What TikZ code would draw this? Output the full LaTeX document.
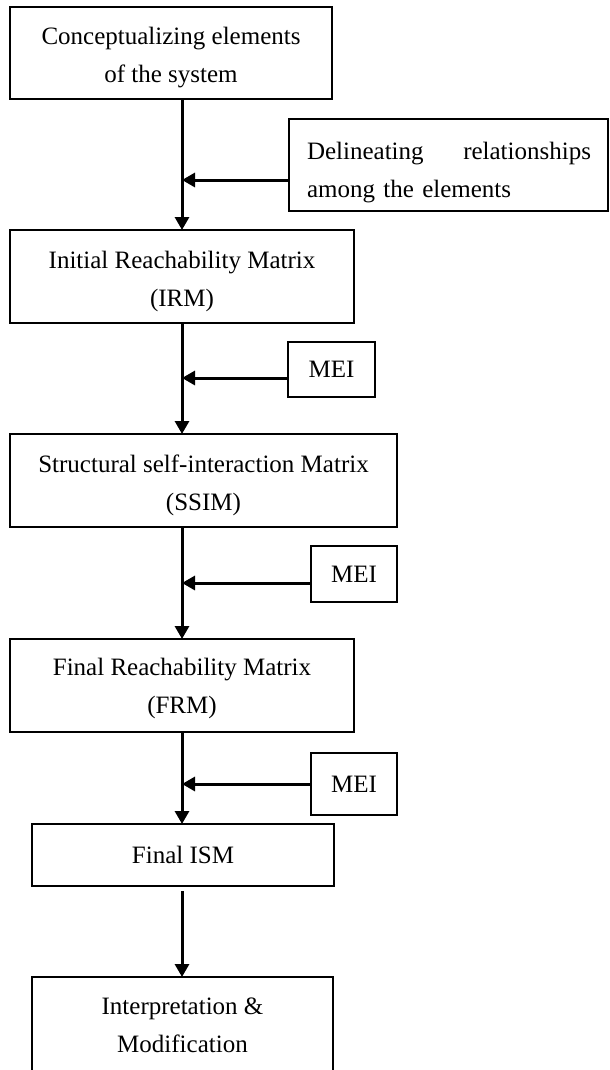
\documentclass[tikz,border=0pt]{standalone}
\usepackage{fontspec}
\setmainfont{Liberation Serif}
\usetikzlibrary{arrows.meta}
\begin{document}
\begin{tikzpicture}[x=1bp,y=-1bp,
  box/.style={draw, line width=1.2bp, inner sep=0pt, outer sep=0pt},
  txt/.style={inner sep=0pt, align=center, font=\fontsize{25bp}{38bp}\selectfont},
  flow/.style={line width=3bp, -{Triangle[length=13bp,width=14bp]}}]
\clip (0,0) rectangle (610,1070);
% boxes
\node[box, minimum width=322bp, minimum height=92bp] (b1) at (171,53) {};
\node[box, minimum width=319bp, minimum height=92bp] (d) at (448.5,165) {};
\node[box, minimum width=344bp, minimum height=93bp] (b2) at (182,276.5) {};
\node[box, minimum width=87bp, minimum height=55bp] (m1) at (331.5,369.5) {};
\node[box, minimum width=387bp, minimum height=93bp] (b3) at (203.5,480.5) {};
\node[box, minimum width=86bp, minimum height=56bp] (m2) at (354,574) {};
\node[box, minimum width=344bp, minimum height=93bp] (b4) at (182,685.5) {};
\node[box, minimum width=86bp, minimum height=62bp] (m3) at (354,784) {};
\node[box, minimum width=302bp, minimum height=62bp] (b5) at (183,855) {};
\node[box, minimum width=301bp, minimum height=113bp] (b6) at (182.5,1033.5) {};
% texts
\node[txt] (t1) at ([yshift=-4.5bp]b1.center) {Conceptualizing elements\\of the system};
\node[txt, text width=284bp, align=left] (td) at (449,173) {\noindent\hbox to 284bp{Delineating\hfill relationships}\\among the elements};
\node[txt] (t2) at ([yshift=-4.5bp]b2.center) {Initial Reachability Matrix\\(IRM)};
\node[txt] (tm1) at (m1.center) {MEI};
\node[txt] (t3) at ([yshift=-4.5bp]b3.center) {Structural self-interaction Matrix\\(SSIM)};
\node[txt] (tm2) at (m2.center) {MEI};
\node[txt] (t4) at ([yshift=-3bp]b4.center) {Final Reachability Matrix\\(FRM)};
\node[txt] (tm3) at (m3.center) {MEI};
\node[txt] (t5) at (b5.center) {Final ISM};
\node[txt] (t6) at (182.5,1025) {Interpretation \&\\Modification};
% vertical flow
\draw[flow] (b1.south -| b2.north) -- (b2.north);
\draw[flow] (b2.south) -- (b2.south |- b3.north);
\draw[flow] (b3.south -| b2.south) -- (b4.north);
\draw[flow] (b4.south) -- (b4.south |- b5.north);
\coordinate (c5) at ([yshift=-5bp]b5.south);
\draw[flow] (c5 -| b4.south) -- (b4.south |- b6.north);
% side inputs
\coordinate (a0) at ([yshift=-15bp]d.west);
\draw[flow] (a0) -- (a0 -| b2.north);
\coordinate (a1) at ([yshift=-8.5bp]m1.west);
\draw[flow] (a1) -- (a1 -| b2.south);
\coordinate (a2) at ([yshift=-9bp]m2.west);
\draw[flow] (a2) -- (a2 -| b2.south);
\coordinate (a3) at (m3.west);
\draw[flow] (a3) -- (a3 -| b4.south);
\end{tikzpicture}
\end{document}
